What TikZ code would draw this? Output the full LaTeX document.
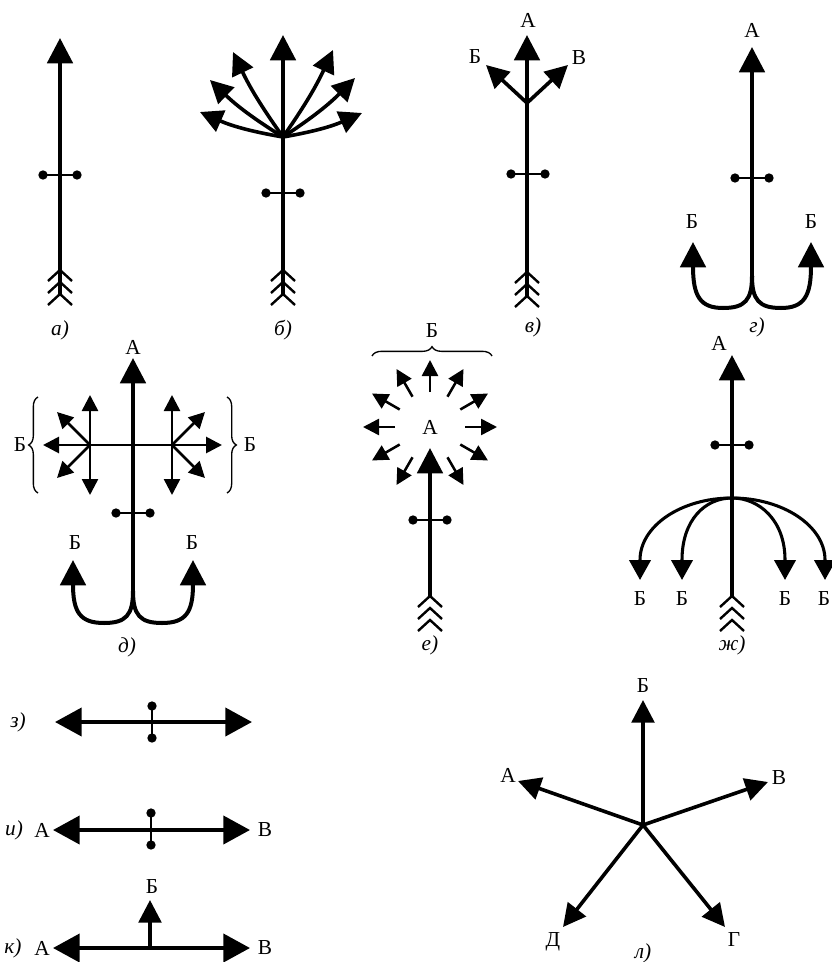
\documentclass[tikz,border=0pt]{standalone}
\usepackage{fontspec}
\setmainfont{Liberation Serif}
\usetikzlibrary{arrows.meta,decorations.pathreplacing,calc}
\newcommand\hbarbell[2]{%
  \draw[line width=2pt] (#1-17,#2) -- (#1+17,#2);
  \fill (#1-17,#2) circle[radius=3.5pt] (#1+17,#2) circle[radius=3.5pt];}
\newcommand\vbarbell[2]{%
  \draw[line width=2pt] (#1,#2-16) -- (#1,#2+16);
  \fill (#1,#2-16) circle[radius=3.5pt] (#1,#2+16) circle[radius=3.5pt];}
\newcommand\fletching[2]{%
  \foreach \k in {0,12,24} {\draw[line width=1.8pt] (#1-12,#2+\k+11) -- (#1,#2+\k) -- (#1+12,#2+\k+11);}}
\begin{document}
\begin{tikzpicture}[x=0.75pt,y=-0.75pt,
  bigarr/.style={line width=3pt,-{Triangle[length=19pt,width=19pt]}},
  bigtwo/.style={line width=3pt,{Triangle[length=20pt,width=21pt]}-{Triangle[length=20pt,width=21pt]}},
  midarr/.style={line width=2.7pt,-{Triangle[length=17pt,width=17pt]}},
  arcarr/.style={line width=2.3pt,-{Triangle[length=15pt,width=16pt]}},
  smallarr/.style={line width=1.9pt,-{Triangle[length=12pt,width=12pt]}},
  smalltwo/.style={line width=2.1pt,{Triangle[length=12pt,width=12pt]}-{Triangle[length=12pt,width=12pt]}},
  lbl/.style={font=\fontsize{16}{18}\selectfont, inner sep=0pt},
  figlbl/.style={font=\fontsize{16}{18}\selectfont\itshape, inner sep=0pt},
  brc/.style={decorate,decoration={brace,amplitude=7pt},line width=1pt}]
\useasboundingbox (0,0) rectangle (831,962);

% ---------- a)
\coordinate (a0) at (60,294); \coordinate (a1) at (60,38);
\draw[bigarr] (a0) -- (a1);
\hbarbell{60}{175}
\fletching{60}{270}
\node[figlbl] (la) at (60,330) {а)};

% ---------- б)
\coordinate (b0) at (283,294); \coordinate (bc) at (283,137); \coordinate (b1) at (283,35);
\draw[bigarr] (b0) -- (b1);
\draw[midarr] (bc) to[bend left=5] (233,52);
\draw[midarr] (bc) to[bend left=6] (210,80);
\draw[midarr] (bc) to[bend left=7] (200,112);
\draw[midarr] (bc) to[bend right=5] (333,50);
\draw[midarr] (bc) to[bend right=6] (355,78);
\draw[midarr] (bc) to[bend right=7] (362,113);
\hbarbell{283}{193}
\fletching{283}{270}
\node[figlbl] (lb) at (283,330) {б)};

% ---------- в)
\coordinate (v0) at (527,296); \coordinate (vc) at (527,103); \coordinate (v1) at (527,35);
\draw[bigarr] (v0) -- (v1);
\draw[midarr] (vc) -- (486,65);
\draw[midarr] (vc) -- (568,65);
\hbarbell{528}{174}
\fletching{527}{272}
\node[lbl] (vA) at (528,20) {А};
\node[lbl] (vB) at (475,57) {Б};
\node[lbl] (vV) at (579,58) {В};
\node[figlbl] (lv) at (533,327) {в)};

% ---------- г)
\coordinate (g0) at (752,276); \coordinate (g1) at (752,47);
\draw[bigarr] (g0) -- (g1);
\draw[bigarr] (g0) .. controls (752,300) and (745,308) .. (723,308) .. controls (700,308) and (693,296) .. (693,242);
\draw[bigarr] (g0) .. controls (752,300) and (759,308) .. (781,308) .. controls (804,308) and (811,296) .. (811,242);
\hbarbell{752}{178}
\node[lbl] (gA) at (752,30) {А};
\node[lbl] (gB1) at (692,222) {Б};
\node[lbl] (gB2) at (811,222) {Б};
\node[figlbl] (lg) at (757,327) {г)};

% ---------- д)
\coordinate (d0) at (133,591); \coordinate (d1) at (133,358);
\draw[bigarr] (d0) -- (d1);
\draw[smalltwo] (43,445) -- (222,445);
\coordinate (dl) at (90,445); \coordinate (dr) at (172,445);
\draw[smallarr] (dl) -- (90,395);
\draw[smallarr] (dl) -- (90,495);
\draw[smallarr] (dl) -- (57,412);
\draw[smallarr] (dl) -- (57,478);
\draw[smallarr] (dr) -- (172,395);
\draw[smallarr] (dr) -- (172,495);
\draw[smallarr] (dr) -- (205,412);
\draw[smallarr] (dr) -- (205,478);
\draw[brc] (38,493) -- (38,397);
\draw[brc] (227,397) -- (227,493);
\hbarbell{133}{513}
\draw[bigarr] (d0) .. controls (133,615) and (126,623) .. (104,623) .. controls (80,623) and (73,612) .. (73,560);
\draw[bigarr] (d0) .. controls (133,615) and (140,623) .. (162,623) .. controls (186,623) and (193,612) .. (193,560);
\node[lbl] (dA) at (133,347) {А};
\node[lbl] (dB1) at (20,445) {Б};
\node[lbl] (dB2) at (250,445) {Б};
\node[lbl] (dB3) at (75,543) {Б};
\node[lbl] (dB4) at (192,543) {Б};
\node[figlbl] (ld) at (127,647) {д)};

% ---------- е)
\coordinate (ec) at (430,427);
\node[lbl] (eA) at (ec) {А};
\foreach \a in {0,30,60,120,150,180,210,240,270,300,330}
  \draw[smallarr] ($(ec)+(\a:35)$) -- ($(ec)+(\a:67)$);
\draw[bigarr] (430,596) -- (430,448);
\hbarbell{430}{520}
\fletching{430}{596}
\draw[brc] (372,356) -- (492,356);
\node[lbl] (eB) at (432,331) {Б};
\node[figlbl] (le) at (430,645) {е)};

% ---------- ж)
\coordinate (z0) at (732,596); \coordinate (zc) at (732,498); \coordinate (z1) at (732,355);
\draw[bigarr] (z0) -- (z1);
\draw[arcarr] (zc) .. controls (681,498) and (640,526) .. (640,560) -- (640,580);
\draw[arcarr] (zc) .. controls (705,498) and (682,520) .. (682,560) -- (682,580);
\draw[arcarr] (zc) .. controls (759,498) and (785,520) .. (785,560) -- (785,580);
\draw[arcarr] (zc) .. controls (783,498) and (825,526) .. (825,560) -- (825,580);
\hbarbell{732}{445}
\fletching{732}{596}
\node[lbl] (zA) at (719,343) {А};
\node[lbl] (zB1) at (640,599) {Б};
\node[lbl] (zB2) at (682,599) {Б};
\node[lbl] (zB3) at (785,599) {Б};
\node[lbl] (zB4) at (824,599) {Б};
\node[figlbl] (lz) at (732,645) {ж)};

% ---------- з)
\draw[bigtwo] (55,722) -- (252,722);
\vbarbell{152}{722}
\node[figlbl] (lze) at (18,722) {з)};

% ---------- и)
\draw[bigtwo] (53,830) -- (250,830);
\vbarbell{151}{829}
\node[figlbl] (li) at (14,830) {и)};
\node[lbl] (iA) at (42,830) {А};
\node[lbl] (iV) at (265,830) {В};

% ---------- к)
\draw[bigtwo] (53,948) -- (250,948);
\draw[midarr] (150,948) -- (150,900);
\node[figlbl] (lk) at (13,948) {к)};
\node[lbl] (kA) at (42,948) {А};
\node[lbl] (kV) at (265,948) {В};
\node[lbl] (kB) at (152,887) {Б};

% ---------- л)
\coordinate (lc) at (643,825);
\draw[midarr] (lc) -- (643,700);
\draw[midarr] (lc) -- (518,781);
\draw[midarr] (lc) -- (768,782);
\draw[midarr] (lc) -- (563,927);
\draw[midarr] (lc) -- (725,927);
\node[lbl] (lB) at (643,686) {Б};
\node[lbl] (lA) at (508,775) {А};
\node[lbl] (lV) at (779,778) {В};
\node[lbl] (lD) at (553,942) {Д};
\node[lbl] (lG) at (734,940) {Г};
\node[figlbl] (ll) at (643,953) {л)};
\end{tikzpicture}
\end{document}
